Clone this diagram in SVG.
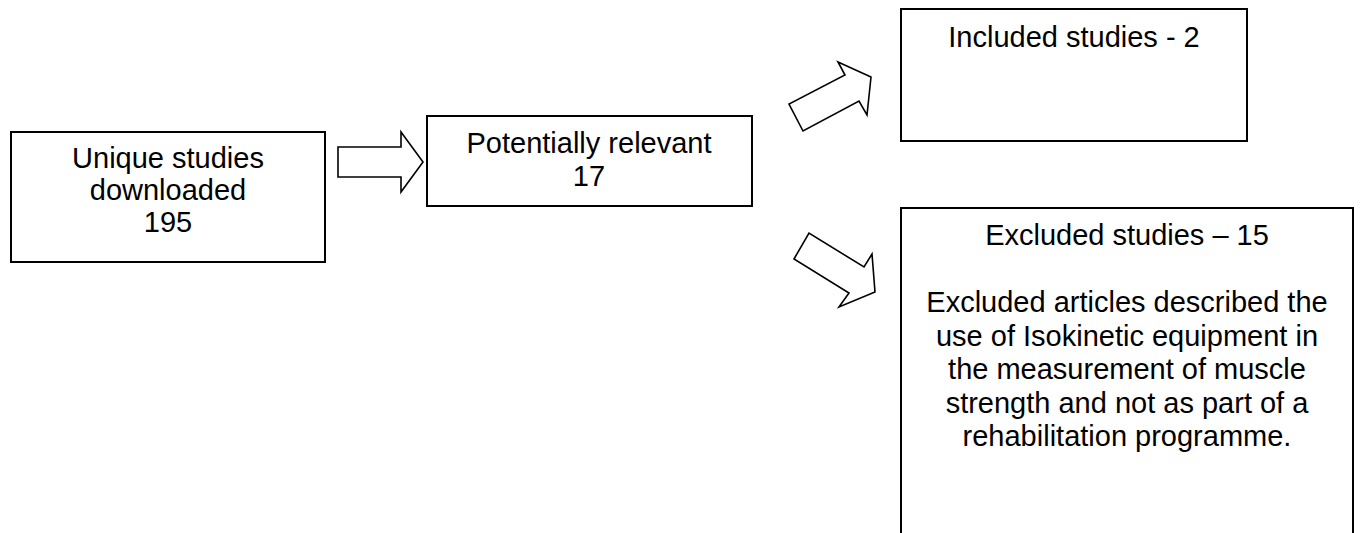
<svg xmlns="http://www.w3.org/2000/svg" width="1362" height="533" viewBox="0 0 1362 533">
<style>
.box{fill:#fff;stroke:#000;stroke-width:2}
.arr{fill:#fff;stroke:#000;stroke-width:1.6;stroke-linejoin:miter}
text{font-family:"Liberation Sans",Arial,sans-serif;font-size:29px;fill:#000;text-anchor:middle}
</style>
<rect width="1362" height="533" fill="#fff"/>
<g id="connectors">
<polygon class="arr" points="338,147 401,147 401,132 423,162 401,192 401,177 338,177"/>
<polygon class="arr" points="803,131 789,104 845,75 838,62 871,77 867,115 859,101"/>
<polygon class="arr" points="794,259 809,233 864,267 872,254 875,292 839,307 849,293"/>
</g>
<g id="unique">
<rect class="box" x="11" y="132" width="314" height="130"/>
<text x="168" y="168">Unique studies</text>
<text x="168" y="200">downloaded</text>
<text x="168" y="232">195</text>
</g>
<g id="relevant">
<rect class="box" x="427" y="116" width="325" height="90"/>
<text x="589" y="153">Potentially relevant</text>
<text x="589" y="186">17</text>
</g>
<g id="included">
<rect class="box" x="901" y="9" width="346" height="132"/>
<text x="1074" y="47">Included studies - 2</text>
</g>
<g id="excluded">
<rect class="box" x="901" y="208" width="452" height="340"/>
<text x="1127" y="245">Excluded studies – 15</text>
<text x="1127" y="312">Excluded articles described the</text>
<text x="1127" y="345.5">use of Isokinetic equipment in</text>
<text x="1127" y="379">the measurement of muscle</text>
<text x="1127" y="412.5">strength and not as part of a</text>
<text x="1127" y="446">rehabilitation programme.</text>
</g>
</svg>
